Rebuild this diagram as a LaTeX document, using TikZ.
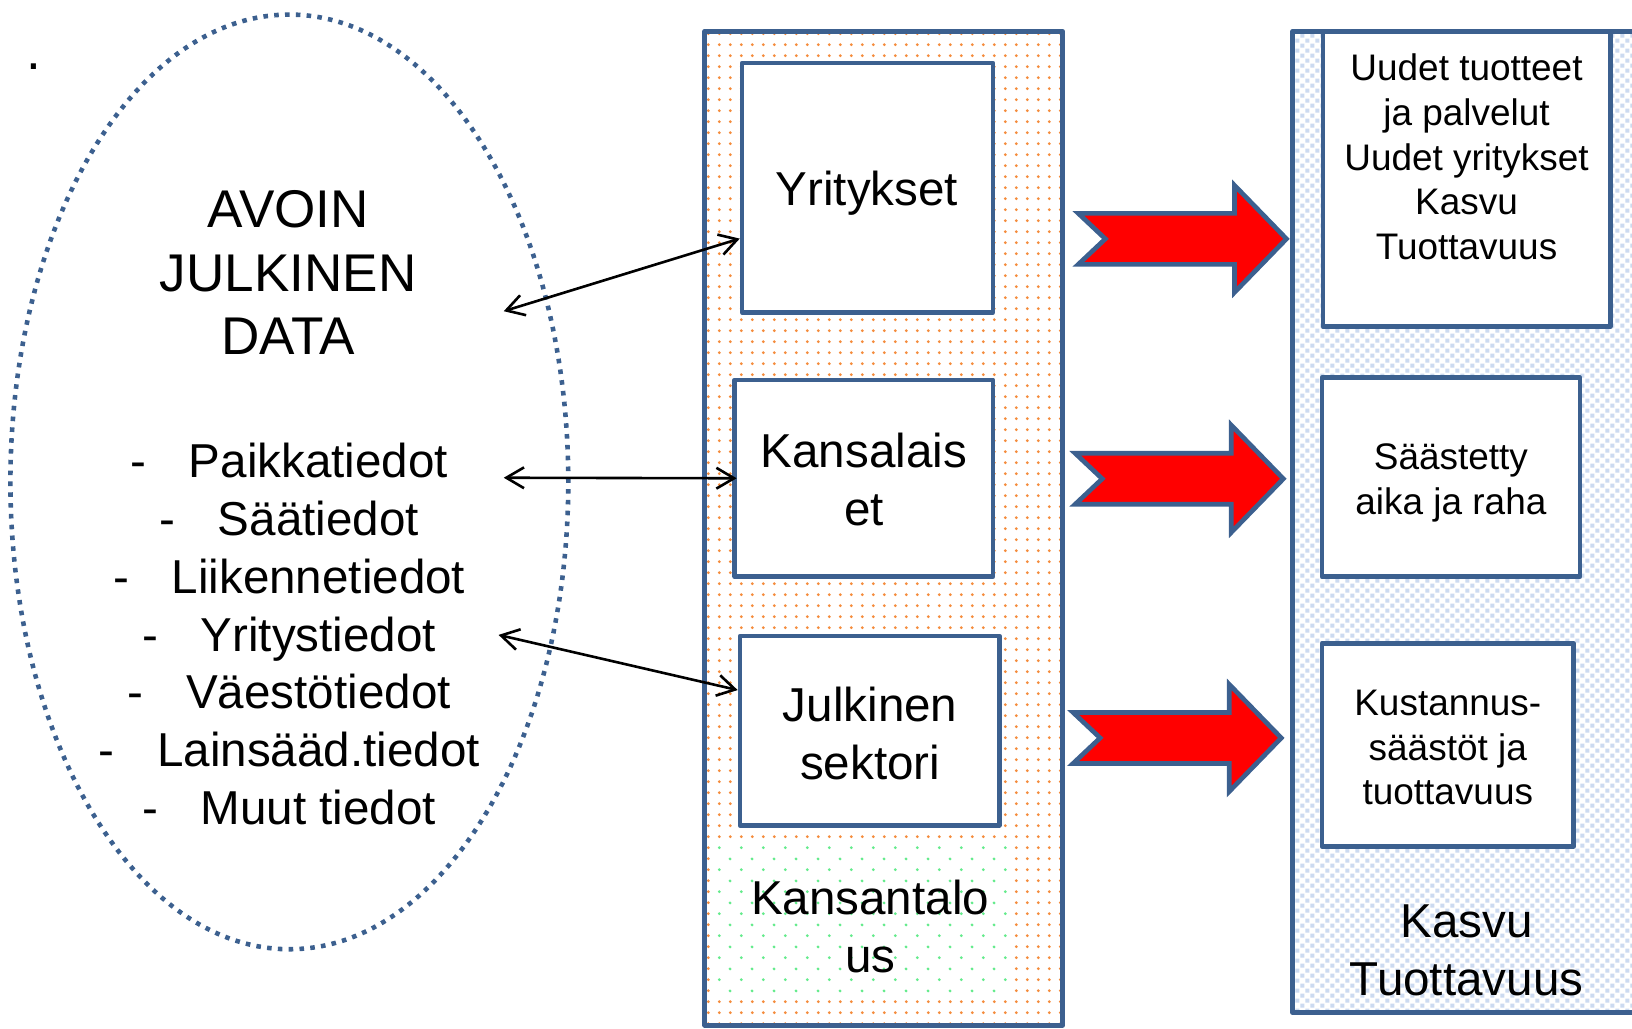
\documentclass[tikz,border=0pt]{standalone}
\usepackage{fontspec}
\setmainfont{Liberation Sans}
\usetikzlibrary{shapes.geometric,arrows.meta,patterns.meta}
\definecolor{dblue}{RGB}{60,96,143}
\definecolor{dotorange}{RGB}{245,140,60}
\definecolor{dotgreen}{RGB}{100,235,140}
\definecolor{lblue}{RGB}{204,218,240}
\newcommand\fntA{\fontsize{51}{61}\selectfont}
\newcommand\fntB{\fontsize{45.7}{55.5}\selectfont}
\newcommand\fntC{\fontsize{35.5}{42.8}\selectfont}
\pgfdeclarepattern{name=odots, type=uncolored,
  bottom left={\pgfpointorigin}, top right={\pgfpoint{10.4pt}{10.4pt}},
  tile size={\pgfpoint{10.4pt}{10.4pt}},
  code={\pgfpathcircle{\pgfpoint{5.2pt}{5.2pt}}{1.5pt}\pgfusepath{fill}}}
\pgfdeclarepattern{name=gdots, type=uncolored,
  bottom left={\pgfpointorigin}, top right={\pgfpoint{20.8pt}{20.8pt}},
  tile size={\pgfpoint{20.8pt}{20.8pt}},
  code={\pgfpathcircle{\pgfpoint{5.2pt}{5.2pt}}{1.5pt}\pgfpathcircle{\pgfpoint{15.6pt}{15.6pt}}{1.5pt}\pgfusepath{fill}}}
\pgfdeclarepattern{name=bsq, type=uncolored,
  bottom left={\pgfpointorigin}, top right={\pgfpoint{10pt}{10pt}},
  tile size={\pgfpoint{10pt}{10pt}},
  code={\pgfpathrectangle{\pgfpoint{0.5pt}{0.5pt}}{\pgfpoint{4pt}{4pt}}\pgfpathrectangle{\pgfpoint{5.5pt}{5.5pt}}{\pgfpoint{4pt}{4pt}}\pgfusepath{fill}}}
\tikzset{
  frame/.style={draw=dblue, line width=4.5pt, line join=round, inner sep=0pt},
  whitebox/.style={frame, fill=white},
  orangebox/.style={frame, preaction={fill=white}, pattern=odots, pattern color=dotorange},
  bluebox/.style={frame, preaction={fill=white}, pattern=bsq, pattern color=lblue},
  greenzone/.style={preaction={fill=white}, pattern=gdots, pattern color=dotgreen, inner sep=0pt},
  dataellipse/.style={ellipse, draw=dblue, line width=4.4pt, dash pattern=on 4.4pt off 6pt, inner sep=0pt},
  lbl/.style={anchor=base, inner sep=0pt, align=center, text=black},
  dbl/.style={line width=2.5pt, {Straight Barb[length=17pt,width=20pt]}-{Straight Barb[length=17pt,width=20pt]}},
  bigarrow/.style={draw=dblue, fill=red, line width=4.5pt, line join=miter},
  fatarrow/.pic={\draw[bigarrow] (0,-24.5) -- (150,-24.5) -- (150,-51.5) -- (200,0) -- (150,51.5) -- (150,24.5) -- (0,24.5) -- (26,0) -- cycle;}
}
\begin{document}
\begin{tikzpicture}[x=1pt, y=-1pt]
\useasboundingbox (0,0) rectangle (1568,988);
\clip (0,0) rectangle (1568,988);

% stray period
\node[anchor=base west, inner sep=0pt, font=\fntA] (dot) at (25,66.5) {.};

% left ellipse (anchor=base = baseline of the last line)
\node[dataellipse, minimum width=536pt, minimum height=898pt] (data) at (278,463) {};
\node[lbl, font=\fntA] (title) at (277,341) {AVOIN\\JULKINEN\\DATA};
\node[lbl, font=\fntB] (list) at (306,792) {%
\llap{-\hspace{41pt}}Paikkatiedot\\
\llap{-\hspace{41pt}}Säätiedot\\
\llap{-\hspace{41pt}}Liikennetiedot\\
\llap{-\hspace{41pt}}Yritystiedot\\
\llap{-\hspace{41pt}}Väestötiedot\\
\llap{-\hspace{41pt}}Lainsääd.tiedot\\
\llap{-\hspace{41pt}}Muut tiedot};

% middle column
\node[orangebox, minimum width=344pt, minimum height=955pt] (kt) at (849,507.5) {};
\node[greenzone, minimum width=284pt, minimum height=145pt] (ktzone) at (831,885.5) {};
\node[whitebox, minimum width=241pt, minimum height=239.5pt] (yrit) at (833.5,180.25) {};
\node[whitebox, minimum width=248pt, minimum height=189pt] (kans) at (830,459.5) {};
\node[whitebox, minimum width=249pt, minimum height=182pt] (julk) at (835.5,702) {};
\node[lbl, font=\fntB] (yritT) at (833,197) {Yritykset};
\node[lbl, font=\fntB] (kansT) at (830,504.5) {Kansalais\\et};
\node[lbl, font=\fntB] (julkT) at (836,748.5) {Julkinen\\sektori};
\node[lbl, font=\fntB] (ktT) at (836,934.5) {Kansantalo\\us};

% right column
\node[bluebox, minimum width=358pt, minimum height=943pt] (kasvu) at (1421,501.5) {};
\node[whitebox, minimum width=276pt, minimum height=284pt] (boxA) at (1409,172) {};
\node[whitebox, minimum width=248pt, minimum height=191pt] (boxB) at (1394,458.5) {};
\node[whitebox, minimum width=242pt, minimum height=195pt] (boxC) at (1391,715.5) {};
\node[lbl, font=\fntC] (boxAT) at (1409,249) {Uudet tuotteet\\ja palvelut\\Uudet yritykset\\Kasvu\\Tuottavuus};
\node[lbl, font=\fntC] (boxBT) at (1394,494) {Säästetty\\aika ja raha};
\node[lbl, font=\fntC] (boxCT) at (1391,773) {Kustannus-\\säästöt ja\\tuottavuus};
\node[lbl, font=\fntB] (kasvuT) at (1409,956) {Kasvu\\Tuottavuus};

% big red arrows
\pic (ar1) at (1036,229.5) {fatarrow};
\pic (ar2) at (1033,460) {fatarrow};
\pic (ar3) at (1031,709) {fatarrow};

% double-headed connectors
\coordinate (e1) at (484,299);
\coordinate (e2) at (484,459);
\coordinate (e3) at (479,610);
\draw[dbl] (e1) -- ([yshift=-49pt]yrit.west);
\draw[dbl] (e2) -- ([xshift=4pt]kans.west);
\draw[dbl] (e3) -- ([yshift=39pt]julk.west);
\end{tikzpicture}
\end{document}
